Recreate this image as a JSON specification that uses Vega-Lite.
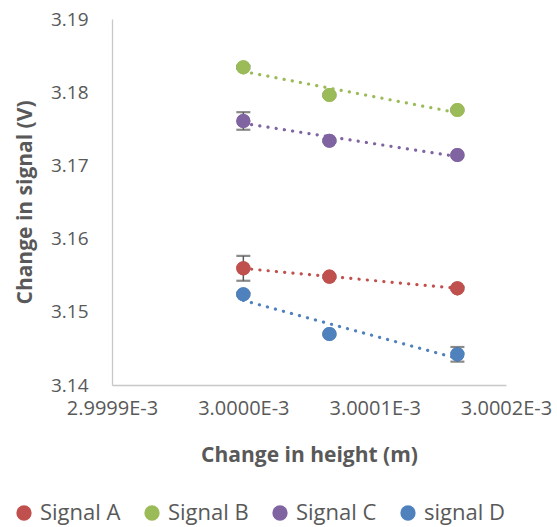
{
  "$schema": "https://vega.github.io/schema/vega-lite/v6.json",
  "autosize": "none",
  "width": 394,
  "height": 366,
  "padding": {"left": 112, "top": 19, "right": 51, "bottom": 142},
  "background": "white",
  "config": {
    "view": {"stroke": null},
    "font": "Open Sans",
    "axis": {"grid": false, "ticks": false, "domainColor": "#C8C8C8", "domainWidth": 1.3, "labelColor": "#595959", "titleColor": "#595959", "labelFont": "Open Sans", "titleFont": "Open Sans", "labelFontSize": 19, "titleFontSize": 21, "titleFontWeight": "bold"}
  },
  "data": {"values": [
    {"series": "Signal A", "x": 0.0030000, "y": 3.15594, "lo": 3.15424, "hi": 3.15764},
    {"series": "Signal A", "x": 0.00300006555, "y": 3.15480, "lo": 3.15460, "hi": 3.15500},
    {"series": "Signal A", "x": 0.0030001630, "y": 3.15321, "lo": 3.15301, "hi": 3.15341},
    {"series": "Signal B", "x": 0.0030000, "y": 3.18340, "lo": 3.18320, "hi": 3.18360},
    {"series": "Signal B", "x": 0.00300006555, "y": 3.17962, "lo": 3.17942, "hi": 3.17982},
    {"series": "Signal B", "x": 0.0030001630, "y": 3.17757, "lo": 3.17737, "hi": 3.17777},
    {"series": "Signal C", "x": 0.0030000, "y": 3.17607, "lo": 3.17487, "hi": 3.17727},
    {"series": "Signal C", "x": 0.00300006555, "y": 3.17337, "lo": 3.17317, "hi": 3.17357},
    {"series": "Signal C", "x": 0.0030001630, "y": 3.17142, "lo": 3.17122, "hi": 3.17162},
    {"series": "signal D", "x": 0.0030000, "y": 3.15239, "lo": 3.15219, "hi": 3.15259},
    {"series": "signal D", "x": 0.00300006555, "y": 3.14697, "lo": 3.14677, "hi": 3.14717},
    {"series": "signal D", "x": 0.0030001630, "y": 3.14419, "lo": 3.14319, "hi": 3.14519}
  ]},
  "encoding": {
    "x": {"field": "x", "type": "quantitative",
      "scale": {"domain": [0.0029999, 0.0030002], "nice": false, "zero": false},
      "axis": {"title": "Change in height (m)", "values": [0.0029999, 0.003, 0.0030001, 0.0030002],
        "labelExpr": "format(datum.value * 1000, '.4f') + 'E-3'", "labelPadding": 13, "labelOverlap": false,
        "labelFontSize": 20, "titleY": 70, "titleBaseline": "middle", "labelFlush": false}},
    "y": {"field": "y", "type": "quantitative",
      "scale": {"domain": [3.14, 3.19], "nice": false, "zero": false},
      "axis": {"title": "Change in signal (V)", "values": [3.14, 3.15, 3.16, 3.17, 3.18, 3.19], "format": ".2f",
        "labelPadding": 24, "titleX": -87, "titleBaseline": "middle", "titleY": 183}}
  },
  "layer": [
    {
      "mark": {"type": "point", "shape": "circle", "filled": true, "opacity": 1, "size": 200},
      "encoding": {
        "color": {"field": "series", "type": "nominal",
          "scale": {"domain": ["Signal A", "Signal B", "Signal C", "signal D"], "range": ["#C0504D", "#9BBB59", "#8064A2", "#4F81BD"]},
          "legend": {"title": null, "orient": "none", "legendX": -99, "legendY": 483, "direction": "horizontal", "columns": 4,
            "symbolType": "circle", "symbolSize": 190,
            "labelFontSize": 22, "labelColor": "#595959", "labelFont": "Open Sans", "labelOffset": 5,
            "columnPadding": 20, "symbolOpacity": 1}}
      }
    },
    {
      "transform": [{"regression": "y", "on": "x", "groupby": ["series"]}],
      "mark": {"type": "line", "strokeDash": [0.1, 8.2], "strokeWidth": 3.2, "strokeCap": "round"},
      "encoding": {
        "color": {"field": "series", "type": "nominal"}
      }
    },
    {
      "mark": {"type": "errorbar", "ticks": {"size": 14, "color": "#595959", "thickness": 2.2}, "rule": {"color": "#595959", "strokeWidth": 1.5}},
      "encoding": {
        "y": {"field": "lo", "type": "quantitative"},
        "y2": {"field": "hi"}
      }
    },
    {
      "mark": {"type": "point", "shape": "circle", "filled": true, "opacity": 1, "size": 200},
      "encoding": {
        "color": {"field": "series", "type": "nominal"}
      }
    }
  ]
}
